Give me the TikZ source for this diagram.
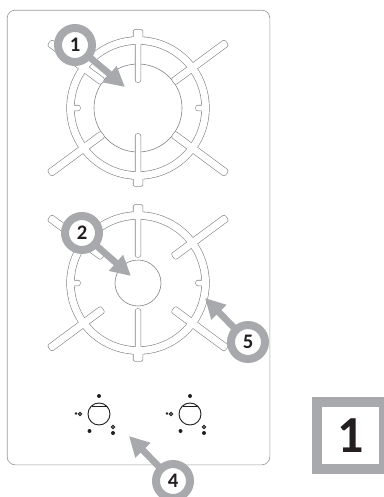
\documentclass[tikz,border=0pt]{standalone}
\usepackage{fontspec}
\setmainfont{Carlito}
\usepackage{tikz}
\usetikzlibrary{arrows.meta}
\definecolor{callgray}{HTML}{A7A9AC}
\definecolor{linegray}{HTML}{808285}
\definecolor{inkblack}{HTML}{231F20}

\begin{document}
\begin{tikzpicture}[
  x=0.75pt, y=-0.75pt,
  outline/.style={draw=linegray, line width=0.9pt},
  hollow/.style={fill=white},
  centre/.style={draw=linegray, line width=0.45pt},
  panel/.style={rectangle, rounded corners=6pt, draw=linegray!80, line width=0.5pt,
                minimum width=197pt, minimum height=341pt},
  callout/.style={circle, draw=callgray, fill=white, line width=6pt, minimum size=25.5pt,
                  inner sep=0pt, outer sep=0pt, text=inkblack,
                  font=\fontsize{15.5}{15.5}\selectfont\bfseries},
  pointer/.style={-{Triangle[length=15pt, width=15pt]}, draw=callgray, fill=callgray, line width=5pt},
  tag/.style={rectangle, draw=callgray, fill=white, line width=7.5pt, minimum size=50.25pt,
              inner sep=0pt, text=inkblack, font=\fontsize{39}{39}\selectfont\bfseries},
  knobdot/.style={circle, fill=inkblack, inner sep=0pt, minimum size=3pt},
  knobring/.style={circle, draw=inkblack, line width=0.8pt, inner sep=0pt, minimum size=2.6pt},
  pics/grate/.style={code={
    \foreach \pass in {outline,hollow}{
      \path[\pass, even odd rule] (0,0) circle (71) (0,0) circle (64);
      \foreach \ang in {90,270}{
        \path[\pass, rotate=\ang, rounded corners=1.5pt] (26,-2.5) rectangle (68,2.5);
        \path[\pass, rotate=\ang, rounded corners=1pt] (66,-4.5) rectangle (78,4.5);
      }
      \foreach \ang in {0,180}{
        \path[\pass, rotate=\ang, rounded corners=1.5pt] (58,-2.5) rectangle (68,2.5);
      }
      \foreach \ang in {36.5,143.5,216.5,323.5}{
        \path[\pass, rotate=\ang, rounded corners=1.5pt] (44,-3.5) rectangle (110,3.5);
      }
    }
  }},
  pics/knob/.style={code={
    \draw[inkblack, line width=0.7pt] (0,0) circle (11);
    \draw[inkblack, line width=0.5pt] (-7.5,-8) -- (7.5,-8);
    \node[knobdot] (#1top) at (0,-18) {};
    \node[knobdot] (#1low) at (-9.5,17) {};
    \node[knobring] (#1ring) at (14,13) {};
    \node[knobdot] (#1big) at (14,19) {};
    \node[knobring] (#1off) at (-19,0) {};
    \node[knobdot, minimum size=2pt] (#1star) at (-23,-0.5) {};
  }},
]
\useasboundingbox (0,0) rectangle (384,497);

\node[panel] (hob) at (138.5,237.5) {};

% burners
\draw[centre] (138,108) circle (44);
\pic at (138,108) {grate};
\draw[centre] (138,283) circle (23);
\pic at (138,283) {grate};

% knobs
\pic at (99,414) {knob=a};
\pic at (190,414) {knob=b};

\node[callout] (one)  at (75,45)   {1};
\node[callout] (two)  at (82,233)  {2};
\node[callout] (five) at (248,342) {5};
\node[callout] (four) at (173,481) {4};

\coordinate (oneend)  at (125,87);
\coordinate (twoend)  at (131,276);
\coordinate (fiveend) at (205,298);
\coordinate (fourend) at (129,436);

\draw[pointer] (one) -- (oneend);
\draw[pointer] (two) -- (twoend);
\draw[pointer] (five) -- (fiveend);
\draw[pointer] (four) -- (fourend);

\node[tag] (legend) at (350.5,435.5) {1};
\end{tikzpicture}
\end{document}
